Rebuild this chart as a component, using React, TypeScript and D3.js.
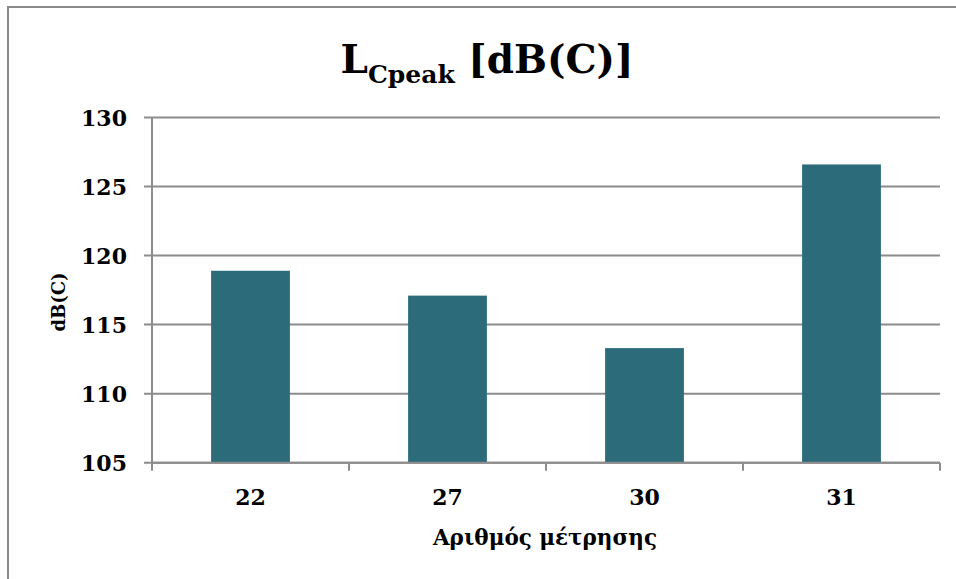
import React from "react";
import * as d3 from "d3";

const categories = ["22", "27", "30", "31"];
const values = [118.9, 117.1, 113.3, 126.6];
const yTicks = [105, 110, 115, 120, 125, 130];
const titleMain = "L";
const titleSub = "Cpeak";
const titleRest = " [dB(C)]";
const yTitle = "dB(C)";
const xTitle = "Αριθμός μέτρησης";

export default function App() {
  const W = 956, H = 579;
  const left = 152, right = 940, top = 117.5, bottom = 462.7;
  const x = d3.scaleBand<string>().domain(categories).range([left, right]).paddingInner(0.6).paddingOuter(0.3);
  const xb = d3.scaleBand<string>().domain(categories).range([left, right]);
  const y = d3.scaleLinear().domain([105, 130]).range([bottom, top]);
  const font = "'DejaVu Serif', 'Liberation Serif', serif";
  const grid = "#8c8c8c";
  return (
    <svg width={W} height={H} style={{ position: "absolute", left: 0, top: 0, background: "#fff" }} fontFamily={font}>
      <rect x={8} y={7} width={1200} height={1200} fill="#fff" stroke="#8a8a8a" strokeWidth={2} />
      <text x={487} y={73} textAnchor="middle" fontWeight="bold" fontSize={39} fill="#000">
        {titleMain}
        <tspan fontSize={25} dy={10}>{titleSub}</tspan>
        <tspan dy={-10}>{titleRest}</tspan>
      </text>
      {yTicks.map((t) => (
        <g key={t}>
          <line x1={144} x2={right} y1={y(t)} y2={y(t)} stroke={grid} strokeWidth={2} />
          <text x={127} y={y(t)} dy="0.37em" textAnchor="end" fontWeight="bold" fontSize={22} fill="#000">{t}</text>
        </g>
      ))}
      {categories.map((c, i) => (
        <rect key={c} x={x(c)!} width={x.bandwidth()} y={y(values[i])} height={bottom - y(values[i])} fill="#2b6b7a" />
      ))}
      <line x1={left} x2={left} y1={top} y2={bottom + 8} stroke={grid} strokeWidth={2} />
      <line x1={left} x2={right} y1={bottom} y2={bottom} stroke={grid} strokeWidth={2} />
      {categories.map((c) => (
        <line key={"t" + c} x1={xb(c)! + xb.bandwidth()} x2={xb(c)! + xb.bandwidth()} y1={bottom} y2={bottom + 8} stroke={grid} strokeWidth={2} />
      ))}
      {categories.map((c) => (
        <text key={"l" + c} x={xb(c)! + xb.bandwidth() / 2} y={505} textAnchor="middle" fontWeight="bold" fontSize={22} fill="#000">{c}</text>
      ))}
      <text x={545} y={545} textAnchor="middle" fontWeight="bold" fontSize={21.5} fill="#000">{xTitle}</text>
      <text transform={`translate(65,302) rotate(-90)`} textAnchor="middle" fontWeight="bold" fontSize={18} fill="#000">{yTitle}</text>
    </svg>
  );
}
